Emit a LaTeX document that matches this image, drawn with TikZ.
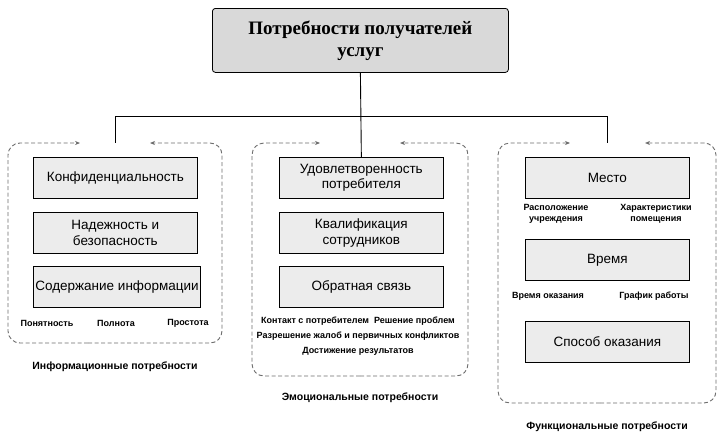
\documentclass[tikz,border=0pt]{standalone}
\usepackage{fontspec}
\setmainfont{Liberation Sans}
\newfontfamily\serifb{Liberation Serif}
\usetikzlibrary{arrows.meta}
\begin{document}
\begin{tikzpicture}[x=1pt,y=-1pt,
  box/.style={draw=black,line width=0.7pt,fill=gray!15,minimum width=164pt,minimum height=41pt,inner sep=2pt,align=center,font=\fontsize{13.5}{15.5}\selectfont,anchor=north west},
  grp/.style={draw=gray!85!black,dash pattern=on 4pt off 2.5pt,line width=0.9pt,rounded corners=12pt},
  sml/.style={font=\fontsize{9}{11}\selectfont\bfseries,align=center,inner sep=0pt},
  grpcap/.style={font=\fontsize{10.5}{12}\selectfont\bfseries,inner sep=0pt},
  conn/.style={draw=black,line width=0.9pt},
  tip/.style={-{Stealth[length=5pt,width=4pt]}}]
\useasboundingbox (0,0) rectangle (725,439);
\node[draw=black,line width=0.8pt,fill=gray!30,rounded corners=3pt,minimum width=296pt,minimum height=64pt,anchor=north west,align=center,font=\serifb\fontsize{19}{22}\selectfont\bfseries] (top) at (212,8) {Потребности получателей\\услуг};
% groups
\draw[grp,tip] (88,343) -- (8,343) -- (8,143) -- (80,143);
\draw[grp,tip] (88,343) -- (222,343) -- (222,143) -- (150,143);
\draw[grp,tip] (360,376) -- (252,376) -- (252,143) -- (320,143);
\draw[grp,tip] (360,376) -- (468,376) -- (468,143) -- (400,143);
\draw[grp,tip] (600,403) -- (498,403) -- (498,143) -- (570,143);
\draw[grp,tip] (600,403) -- (716,403) -- (716,143) -- (645,143);
% boxes
\node[box] (a1) at (33,157) {Конфиденциальность};
\node[box] (a2) at (33,212) {Надежность и\\безопасность};
\node[box] (a3) at (33,266) {Содержание информации};
\node[box] (b1) at (279,157) {Удовлетворенность\\потребителя};
\node[box] (b2) at (279,212) {Квалификация\\сотрудников};
\node[box] (b3) at (279,266) {Обратная связь};
\node[box] (c1) at (525,157) {Место};
\node[box] (c2) at (525,239) {Время};
\node[box] (c3) at (525,321) {Способ оказания};
% connectors
\coordinate (jl) at (115,116);
\coordinate (jr) at (607,116);
\draw[conn] (top.south) -- (b1.north);
\draw[conn] (jl) -- (jr);
\draw[conn] (jl) -- (115,143);
\draw[conn] (jr) -- (607,143);
% labels
\node[sml] (l1) at (47,323) {Понятность};
\node[sml] (l2) at (116,323) {Полнота};
\node[sml] (l3) at (188,323) {Простота};
\node[sml] (m1) at (358,321) {Контакт с потребителем\ \ Решение проблем};
\node[sml] (m2) at (358,336) {Разрешение жалоб и первичных конфликтов};
\node[sml] (m3) at (358,351) {Достижение результатов};
\node[sml] (r1) at (556,214) {Расположение\\учреждения};
\node[sml] (r2) at (656,214) {Характеристики\\помещения};
\node[sml] (r3) at (548,296) {Время оказания};
\node[sml] (r4) at (654,296) {График работы};
\node[grpcap] (g1) at (115,367) {Информационные потребности};
\node[grpcap] (g2) at (360,398) {Эмоциональные потребности};
\node[grpcap] (g3) at (607,427) {Функциональные потребности};
\end{tikzpicture}
\end{document}
